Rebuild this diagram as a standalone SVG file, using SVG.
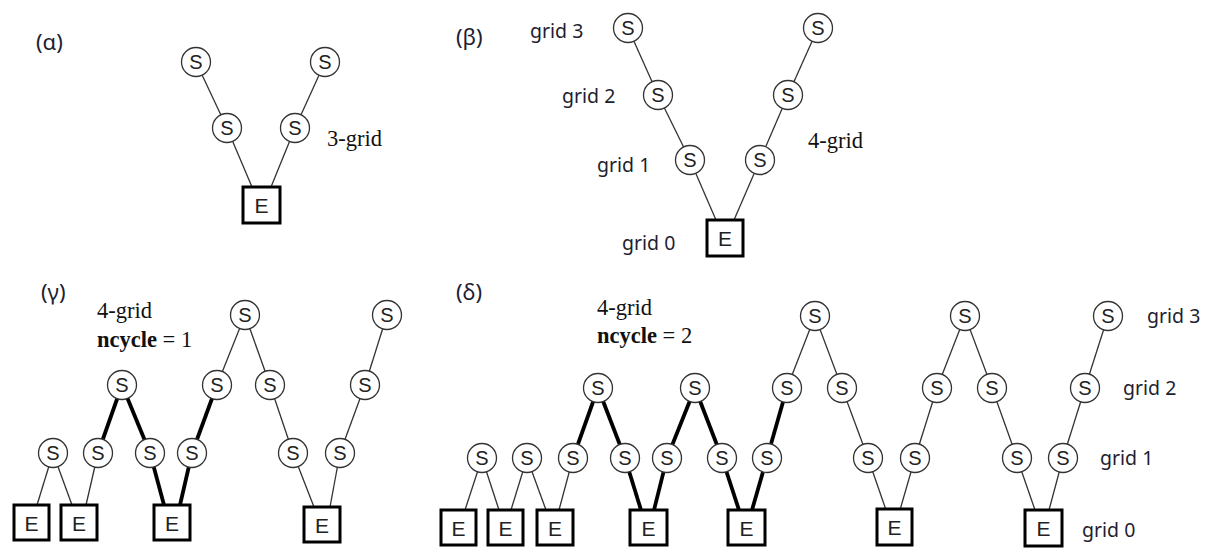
<svg xmlns="http://www.w3.org/2000/svg" width="1213" height="550" viewBox="0 0 1213 550">
<style>
.c{fill:#fff;stroke:#333;stroke-width:1.3}
.b{fill:#fff;stroke:#000;stroke-width:3}
.t{font-family:"Liberation Sans",Arial,sans-serif;font-size:20px;fill:#222;text-anchor:middle}
.te{font-family:"Liberation Sans",Arial,sans-serif;font-size:21px;fill:#222;text-anchor:middle}
.lbl{font-family:"Noto Sans","DejaVu Sans",sans-serif;font-size:19.5px;fill:#1e1e30}
.pl{font-family:"Noto Sans","DejaVu Sans",sans-serif;font-size:22px;fill:#1e1e30}
.ser{font-family:"Liberation Serif","Times New Roman",serif;font-size:22.5px;fill:#111}
.bold{font-weight:bold}
.thin{stroke:#333;stroke-width:1.3;fill:none}
.thick{stroke:#000;stroke-width:3.8;fill:none}
</style>
<rect width="1213" height="550" fill="#fff"/>
<g id="connectors">
<line class="thin" x1="196" y1="62" x2="227" y2="128"/>
<line class="thin" x1="227" y1="128" x2="252" y2="187"/>
<line class="thin" x1="295" y1="128" x2="271" y2="187"/>
<line class="thin" x1="325" y1="62" x2="295" y2="128"/>
<line class="thin" x1="628" y1="28" x2="658" y2="95"/>
<line class="thin" x1="658" y1="95" x2="690" y2="160"/>
<line class="thin" x1="690" y1="160" x2="716" y2="220"/>
<line class="thin" x1="760" y1="160" x2="734" y2="220"/>
<line class="thin" x1="788" y1="95" x2="760" y2="160"/>
<line class="thin" x1="818" y1="28" x2="788" y2="95"/>
<line class="thin" x1="53" y1="453" x2="37" y2="505"/>
<line class="thin" x1="53" y1="453" x2="72" y2="505"/>
<line class="thin" x1="98" y1="453" x2="86" y2="505"/>
<line class="thick" x1="98" y1="453" x2="122" y2="385"/>
<line class="thick" x1="122" y1="385" x2="150" y2="453"/>
<line class="thick" x1="150" y1="453" x2="164" y2="505"/>
<line class="thick" x1="192" y1="453" x2="180" y2="505"/>
<line class="thick" x1="192" y1="453" x2="217" y2="385"/>
<line class="thin" x1="217" y1="385" x2="245" y2="315"/>
<line class="thin" x1="245" y1="315" x2="270" y2="385"/>
<line class="thin" x1="270" y1="385" x2="293" y2="453"/>
<line class="thin" x1="293" y1="453" x2="314" y2="507"/>
<line class="thin" x1="340" y1="453" x2="330" y2="507"/>
<line class="thin" x1="340" y1="453" x2="365" y2="385"/>
<line class="thin" x1="365" y1="385" x2="387" y2="315"/>
<line class="thin" x1="482" y1="458" x2="465" y2="510"/>
<line class="thin" x1="482" y1="458" x2="499" y2="510"/>
<line class="thin" x1="527" y1="458" x2="511" y2="510"/>
<line class="thin" x1="527" y1="458" x2="546" y2="510"/>
<line class="thin" x1="573" y1="458" x2="559" y2="510"/>
<line class="thick" x1="573" y1="458" x2="598" y2="388"/>
<line class="thick" x1="598" y1="388" x2="625" y2="458"/>
<line class="thick" x1="625" y1="458" x2="641" y2="510"/>
<line class="thick" x1="667" y1="458" x2="654" y2="510"/>
<line class="thick" x1="667" y1="458" x2="695" y2="388"/>
<line class="thick" x1="695" y1="388" x2="722" y2="458"/>
<line class="thick" x1="722" y1="458" x2="739" y2="510"/>
<line class="thick" x1="767" y1="458" x2="752" y2="510"/>
<line class="thick" x1="767" y1="458" x2="787" y2="388"/>
<line class="thin" x1="787" y1="388" x2="815" y2="316"/>
<line class="thin" x1="815" y1="316" x2="842" y2="388"/>
<line class="thin" x1="842" y1="388" x2="868" y2="458"/>
<line class="thin" x1="868" y1="458" x2="886" y2="510"/>
<line class="thin" x1="915" y1="458" x2="900" y2="510"/>
<line class="thin" x1="915" y1="458" x2="937" y2="388"/>
<line class="thin" x1="937" y1="388" x2="965" y2="316"/>
<line class="thin" x1="965" y1="316" x2="992" y2="388"/>
<line class="thin" x1="992" y1="388" x2="1017" y2="458"/>
<line class="thin" x1="1017" y1="458" x2="1035" y2="510"/>
<line class="thin" x1="1063" y1="458" x2="1049" y2="510"/>
<line class="thin" x1="1063" y1="458" x2="1085" y2="388"/>
<line class="thin" x1="1085" y1="388" x2="1108" y2="316"/>
</g>
<g id="labels">
<text class="pl" x="36" y="50">(α)</text>
<text class="pl" x="456" y="45">(β)</text>
<text class="pl" x="41" y="300">(γ)</text>
<text class="pl" x="456" y="300">(δ)</text>
<text class="ser" x="327" y="146">3-grid</text>
<text class="ser" x="808" y="148">4-grid</text>
<text class="ser" x="97" y="318">4-grid</text>
<text class="ser" x="97" y="347"><tspan class="bold">ncycle</tspan> = 1</text>
<text class="ser" x="597" y="315">4-grid</text>
<text class="ser" x="597" y="343"><tspan class="bold">ncycle</tspan> = 2</text>
<text class="lbl" x="530" y="38">grid 3</text>
<text class="lbl" x="562" y="103">grid 2</text>
<text class="lbl" x="597" y="172">grid 1</text>
<text class="lbl" x="622" y="250">grid 0</text>
<text class="lbl" x="1147" y="323">grid 3</text>
<text class="lbl" x="1123" y="395">grid 2</text>
<text class="lbl" x="1100" y="465">grid 1</text>
<text class="lbl" x="1082" y="537">grid 0</text>
</g>
<g id="a-s1"><circle class="c" cx="196" cy="62" r="14.5"/><text class="t" x="196" y="69">S</text></g>
<g id="a-s2"><circle class="c" cx="325" cy="62" r="14.5"/><text class="t" x="325" y="69">S</text></g>
<g id="a-s3"><circle class="c" cx="227" cy="128" r="14.5"/><text class="t" x="227" y="135">S</text></g>
<g id="a-s4"><circle class="c" cx="295" cy="128" r="14.5"/><text class="t" x="295" y="135">S</text></g>
<g id="a-e"><rect class="b" x="243" y="187" width="37" height="36"/><text class="te" x="261.5" y="213">E</text></g>
<g id="b-s1"><circle class="c" cx="628" cy="28" r="14.5"/><text class="t" x="628" y="35">S</text></g>
<g id="b-s2"><circle class="c" cx="818" cy="28" r="14.5"/><text class="t" x="818" y="35">S</text></g>
<g id="b-s3"><circle class="c" cx="658" cy="95" r="14.5"/><text class="t" x="658" y="102">S</text></g>
<g id="b-s4"><circle class="c" cx="788" cy="95" r="14.5"/><text class="t" x="788" y="102">S</text></g>
<g id="b-s5"><circle class="c" cx="690" cy="160" r="14.5"/><text class="t" x="690" y="167">S</text></g>
<g id="b-s6"><circle class="c" cx="760" cy="160" r="14.5"/><text class="t" x="760" y="167">S</text></g>
<g id="b-e"><rect class="b" x="707" y="220" width="36" height="36"/><text class="te" x="725" y="246">E</text></g>
<g id="g-s1"><circle class="c" cx="245" cy="315" r="14.5"/><text class="t" x="245" y="322">S</text></g>
<g id="g-s2"><circle class="c" cx="387" cy="315" r="14.5"/><text class="t" x="387" y="322">S</text></g>
<g id="g-s3"><circle class="c" cx="122" cy="385" r="14.5"/><text class="t" x="122" y="392">S</text></g>
<g id="g-s4"><circle class="c" cx="217" cy="385" r="14.5"/><text class="t" x="217" y="392">S</text></g>
<g id="g-s5"><circle class="c" cx="270" cy="385" r="14.5"/><text class="t" x="270" y="392">S</text></g>
<g id="g-s6"><circle class="c" cx="365" cy="385" r="14.5"/><text class="t" x="365" y="392">S</text></g>
<g id="g-s7"><circle class="c" cx="53" cy="453" r="14.5"/><text class="t" x="53" y="460">S</text></g>
<g id="g-s8"><circle class="c" cx="98" cy="453" r="14.5"/><text class="t" x="98" y="460">S</text></g>
<g id="g-s9"><circle class="c" cx="150" cy="453" r="14.5"/><text class="t" x="150" y="460">S</text></g>
<g id="g-s10"><circle class="c" cx="192" cy="453" r="14.5"/><text class="t" x="192" y="460">S</text></g>
<g id="g-s11"><circle class="c" cx="293" cy="453" r="14.5"/><text class="t" x="293" y="460">S</text></g>
<g id="g-s12"><circle class="c" cx="340" cy="453" r="14.5"/><text class="t" x="340" y="460">S</text></g>
<g id="g-e1"><rect class="b" x="14" y="505" width="35" height="35"/><text class="te" x="31.5" y="531">E</text></g>
<g id="g-e2"><rect class="b" x="61" y="505" width="36" height="35"/><text class="te" x="79" y="531">E</text></g>
<g id="g-e3"><rect class="b" x="154" y="505" width="36" height="35"/><text class="te" x="172" y="531">E</text></g>
<g id="g-e4"><rect class="b" x="304" y="507" width="36" height="35"/><text class="te" x="322" y="533">E</text></g>
<g id="d-s1"><circle class="c" cx="482" cy="458" r="14.5"/><text class="t" x="482" y="465">S</text></g>
<g id="d-s2"><circle class="c" cx="527" cy="458" r="14.5"/><text class="t" x="527" y="465">S</text></g>
<g id="d-s3"><circle class="c" cx="573" cy="458" r="14.5"/><text class="t" x="573" y="465">S</text></g>
<g id="d-s4"><circle class="c" cx="625" cy="458" r="14.5"/><text class="t" x="625" y="465">S</text></g>
<g id="d-s5"><circle class="c" cx="667" cy="458" r="14.5"/><text class="t" x="667" y="465">S</text></g>
<g id="d-s6"><circle class="c" cx="722" cy="458" r="14.5"/><text class="t" x="722" y="465">S</text></g>
<g id="d-s7"><circle class="c" cx="767" cy="458" r="14.5"/><text class="t" x="767" y="465">S</text></g>
<g id="d-s8"><circle class="c" cx="868" cy="458" r="14.5"/><text class="t" x="868" y="465">S</text></g>
<g id="d-s9"><circle class="c" cx="915" cy="458" r="14.5"/><text class="t" x="915" y="465">S</text></g>
<g id="d-s10"><circle class="c" cx="1017" cy="458" r="14.5"/><text class="t" x="1017" y="465">S</text></g>
<g id="d-s11"><circle class="c" cx="1063" cy="458" r="14.5"/><text class="t" x="1063" y="465">S</text></g>
<g id="d-s12"><circle class="c" cx="598" cy="388" r="14.5"/><text class="t" x="598" y="395">S</text></g>
<g id="d-s13"><circle class="c" cx="695" cy="388" r="14.5"/><text class="t" x="695" y="395">S</text></g>
<g id="d-s14"><circle class="c" cx="787" cy="388" r="14.5"/><text class="t" x="787" y="395">S</text></g>
<g id="d-s15"><circle class="c" cx="842" cy="388" r="14.5"/><text class="t" x="842" y="395">S</text></g>
<g id="d-s16"><circle class="c" cx="937" cy="388" r="14.5"/><text class="t" x="937" y="395">S</text></g>
<g id="d-s17"><circle class="c" cx="992" cy="388" r="14.5"/><text class="t" x="992" y="395">S</text></g>
<g id="d-s18"><circle class="c" cx="1085" cy="388" r="14.5"/><text class="t" x="1085" y="395">S</text></g>
<g id="d-s19"><circle class="c" cx="815" cy="316" r="14.5"/><text class="t" x="815" y="323">S</text></g>
<g id="d-s20"><circle class="c" cx="965" cy="316" r="14.5"/><text class="t" x="965" y="323">S</text></g>
<g id="d-s21"><circle class="c" cx="1108" cy="316" r="14.5"/><text class="t" x="1108" y="323">S</text></g>
<g id="d-e1"><rect class="b" x="441" y="510" width="35" height="35"/><text class="te" x="458.5" y="536">E</text></g>
<g id="d-e2"><rect class="b" x="488" y="510" width="35" height="35"/><text class="te" x="505.5" y="536">E</text></g>
<g id="d-e3"><rect class="b" x="537" y="510" width="36" height="35"/><text class="te" x="555" y="536">E</text></g>
<g id="d-e4"><rect class="b" x="630" y="510" width="37" height="35"/><text class="te" x="648.5" y="536">E</text></g>
<g id="d-e5"><rect class="b" x="728" y="510" width="37" height="35"/><text class="te" x="746.5" y="536">E</text></g>
<g id="d-e6"><rect class="b" x="877" y="509" width="35" height="36"/><text class="te" x="894.5" y="535">E</text></g>
<g id="d-e7"><rect class="b" x="1025" y="510" width="37" height="36"/><text class="te" x="1043.5" y="536">E</text></g>
</svg>
